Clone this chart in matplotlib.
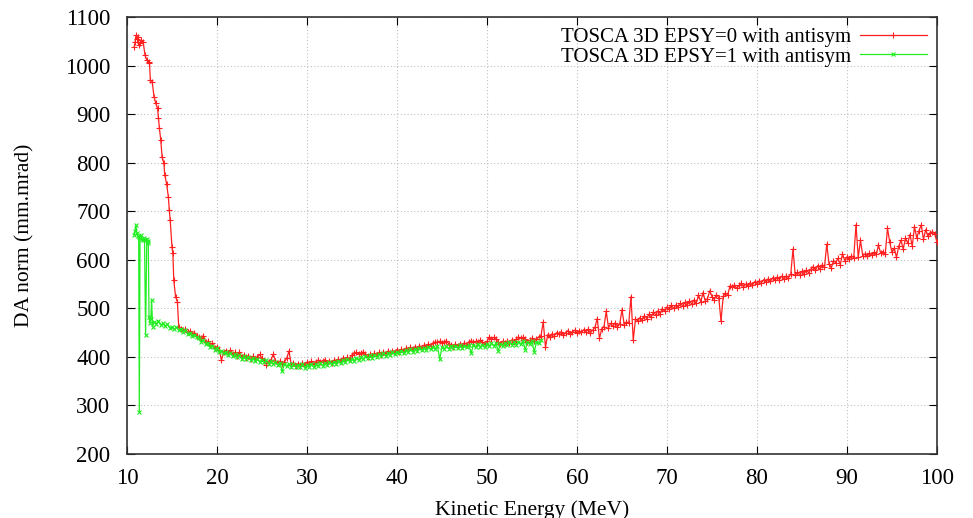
import numpy as np
import matplotlib
matplotlib.use("Agg")
import matplotlib.pyplot as plt

# ---------------- data ----------------
# EPSY=0 (red): steep early part read point by point
red_early_e = [10.8, 10.9, 11.0, 11.1, 11.2, 11.3, 11.4, 11.6, 11.8, 12.0, 12.2, 12.4,
               12.5, 12.6, 12.8, 13.0, 13.2, 13.4, 13.5, 13.6, 13.75, 13.9, 14.1, 14.2,
               14.4, 14.6, 14.7, 14.8, 15.0, 15.1, 15.2, 15.4, 15.6, 15.75]
red_early_v = [1038, 1048, 1062, 1055, 1059, 1042, 1047, 1052, 1048, 1022, 1011, 1008,
               1005, 970, 967, 936, 922, 912, 892, 871, 847, 812, 799, 774,
               757, 729, 702, 682, 626, 613, 558, 524, 514, 462]
# EPSY=0 (red): regular part, 16 .. 100 MeV every 0.25 MeV
red_start, red_step = 16.0, 0.25
red_v = [
    458, 455, 457, 451, 453, 447, 450, 444, 441, 438, 444, 430, 432, 425, 428, 419, 421, 414, 393, 411,
    413, 408, 414, 405, 409, 402, 410, 400, 404, 398, 402, 396, 401, 395, 399, 405, 397, 392, 384, 390,
    394, 405, 392, 387, 391, 386, 390, 397, 412, 384, 388, 382, 386, 381, 387, 383, 389, 386, 391, 385,
    390, 393, 389, 392, 394, 388, 392, 387, 393, 389, 395, 391, 398, 393, 399, 396, 404, 407, 409, 406,
    408, 410, 406, 400, 405, 401, 407, 403, 409, 404, 410, 406, 412, 408, 413, 409, 415, 411, 416, 412,
    418, 414, 420, 416, 421, 417, 423, 419, 424, 420, 426, 422, 428, 431, 430, 432, 429, 431, 433, 427,
    425, 421, 426, 422, 427, 423, 429, 425, 431, 433, 430, 432, 431, 434, 430, 427, 432, 441, 437, 440,
    436, 430, 427, 432, 428, 433, 429, 435, 431, 437, 441, 438, 440, 436, 430, 434, 438, 433, 437, 441,
    444, 472, 420, 446, 441, 448, 444, 450, 447, 452, 445, 450, 454, 447, 451, 455, 449, 453, 451, 456,
    452, 457, 450, 455, 461, 479, 438, 458, 462, 494, 460, 469, 463, 470, 462, 468, 497, 466, 472, 469,
    524, 434, 478, 474, 481, 476, 485, 479, 488, 482, 492, 486, 495, 489, 499, 494, 503, 498, 506, 500,
    507, 503, 510, 505, 512, 507, 515, 509, 517, 510, 528, 513, 532, 516, 520, 536, 524, 518, 528, 522,
    474, 525, 531, 528, 546, 543, 548, 541, 547, 552, 544, 550, 546, 553, 548, 555, 551, 557, 553, 559,
    555, 561, 556, 563, 558, 564, 559, 566, 561, 567, 563, 570, 622, 568, 574, 569, 576, 571, 579, 573,
    581, 586, 578, 588, 580, 590, 585, 632, 592, 583, 598, 594, 603, 590, 612, 598, 606, 601, 608, 604,
    672, 605, 640, 608, 612, 607, 614, 609, 615, 611, 630, 613, 617, 612, 665, 636, 615, 624, 605, 628,
    640, 622, 645, 634, 652, 628, 668, 645, 660, 672, 642, 662, 648, 655, 658, 653, 636,
]

# EPSY=1 (green): early part read point by point
green_early_e = [10.8, 10.9, 11.0, 11.1, 11.2, 11.3, 11.37, 11.45, 11.55, 11.65, 11.75, 11.85,
                 11.95, 12.07, 12.2, 12.3, 12.37, 12.45, 12.55, 12.65, 12.74, 12.85]
green_early_v = [652, 660, 671, 655, 648, 646, 287, 645, 650, 643, 641, 645,
                 640, 445, 642, 638, 634, 483, 470, 478, 517, 462]
# EPSY=1 (green): regular part, 13 .. 56 MeV every 0.25 MeV
green_start, green_step = 13.0, 0.25
green_v = [
    472, 468, 474, 466, 469, 463, 467, 460, 462, 457, 461, 455, 458, 452, 455, 447, 450, 443, 446, 440,
    438, 431, 434, 426, 429, 420, 423, 415, 418, 410, 413, 407, 410, 404, 408, 401, 405, 399, 403, 396,
    401, 396, 399, 393, 398, 391, 396, 390, 394, 389, 393, 386, 391, 385, 389, 383, 388, 370, 386, 381,
    386, 380, 385, 379, 384, 379, 385, 378, 384, 380, 386, 379, 385, 381, 387, 382, 388, 383, 389, 385,
    390, 386, 392, 387, 394, 389, 395, 391, 396, 392, 398, 394, 400, 395, 401, 397, 403, 398, 404, 400,
    405, 401, 407, 402, 408, 404, 410, 405, 411, 407, 413, 408, 414, 410, 416, 411, 417, 413, 418, 414,
    419, 415, 420, 416, 421, 417, 422, 395, 421, 416, 422, 417, 423, 418, 423, 419, 424, 418, 423, 420,
    424, 408, 425, 421, 426, 420, 425, 421, 427, 422, 428, 423, 428, 412, 427, 423, 429, 424, 430, 425,
    430, 425, 431, 426, 432, 415, 430, 427, 433, 410, 431, 428, 434,
]

legend_labels = ["TOSCA 3D EPSY=0 with antisym", "TOSCA 3D EPSY=1 with antisym"]
x_ticks = [10, 20, 30, 40, 50, 60, 70, 80, 90, 100]
y_ticks = [200, 300, 400, 500, 600, 700, 800, 900, 1000, 1100]

# ---------------- build series ----------------
red_e = np.concatenate([red_early_e, red_start + red_step * np.arange(len(red_v))])
red_all = np.concatenate([red_early_v, red_v])
green_e = np.concatenate([green_early_e, green_start + green_step * np.arange(len(green_v))])
green_all = np.concatenate([green_early_v, green_v])

# ---------------- plot ----------------
plt.rcParams['font.family'] = ['Liberation Serif', 'DejaVu Serif']
fig = plt.figure(figsize=(9.73, 5.18), dpi=100)
ax = fig.add_axes([0.1305, 0.1236, 0.8325, 0.8436])

ax.plot(red_e, red_all, color='#ff2020', lw=0.9, marker='+', ms=5, mew=0.8,
        label=legend_labels[0], zorder=3)
ax.plot(green_e, green_all, color='#22ee22', lw=0.9, marker='x', ms=3.5, mew=0.8,
        label=legend_labels[1], zorder=4)

ax.set_xlim(10, 100)
ax.set_ylim(200, 1100)
ax.set_xticks(x_ticks)
ax.set_yticks(y_ticks)
ax.tick_params(direction='in', top=True, right=True, length=6, width=0.8,
               labelsize=16.5, colors='black')
ax.tick_params(axis='x', pad=10)
ax.tick_params(axis='y', pad=12)
ax.grid(True, color='#c0c0c0', linestyle=(0, (1, 2)), linewidth=0.8)
ax.set_axisbelow(True)
for s in ax.spines.values():
    s.set_color('#333333')
    s.set_linewidth(1.2)

ax.set_xlabel("Kinetic Energy (MeV)", fontsize=15.5, labelpad=8)
ax.set_ylabel("DA norm (mm.mrad)", fontsize=15.5, labelpad=22)

leg = ax.legend(loc='upper right', frameon=False, markerfirst=False, fontsize=15,
                handlelength=3.2, labelspacing=0.0, handletextpad=0.4,
                borderaxespad=0.1)

fig.savefig("out.png", dpi=100)
